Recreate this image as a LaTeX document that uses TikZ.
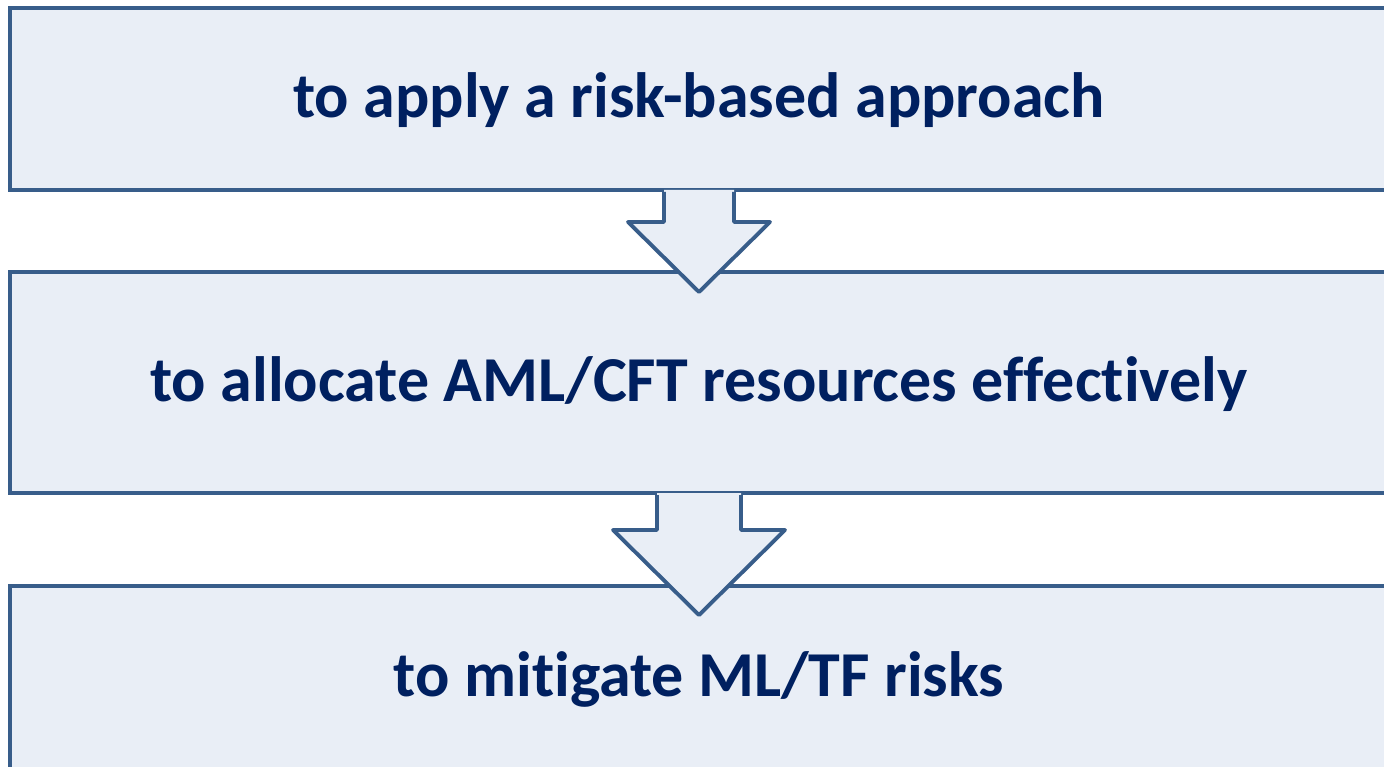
\documentclass[tikz,border=0pt]{standalone}
\usepackage{fontspec}
\setmainfont{Carlito}[Ligatures=NoCommon]
\usetikzlibrary{calc}

\definecolor{boxline}{HTML}{385D8A}
\definecolor{boxfill}{HTML}{E9EEF6}
\definecolor{boxtext}{HTML}{002060}

\begin{document}
\begin{tikzpicture}[x=0.01cm,y=-0.01cm,
    stepbox/.style={draw=boxline,fill=boxfill,line width=1.1pt,rectangle,
        minimum width=13.78cm,inner sep=0pt,text height=0.4cm,text depth=0.03cm,
        text=boxtext,font=\fontsize{18.2}{21}\selectfont\bfseries},
    downarrow/.style={draw=boxline,fill=boxfill,line width=1.1pt,line join=round}]
    \useasboundingbox (0,0) rectangle (1384,766);
    \node[stepbox,minimum height=1.82cm] (apply) at (699,99) {to apply a risk-based approach};
    \node[stepbox,minimum height=2.21cm] (allocate) at (699,382.5) {to allocate AML/CFT resources effectively};
    \node[stepbox,minimum height=1.84cm] (mitigate) at (699,678) {to mitigate ML/TF risks};
    % arrow 1
    \fill[boxfill] ($(apply.south)+(-35,-2)$) -- ($(apply.south)+(-35,30)$) -- ($(apply.south)+(-71,30)$)
        -- ($(apply.south)+(0,100)$) -- ($(apply.south)+(71,30)$) -- ($(apply.south)+(35,30)$)
        -- ($(apply.south)+(35,-2)$) -- cycle;
    \draw[downarrow,fill=none] ($(apply.south)+(-35,0)$) -- ($(apply.south)+(-35,30)$) -- ($(apply.south)+(-71,30)$)
        -- ($(apply.south)+(0,100)$) -- ($(apply.south)+(71,30)$) -- ($(apply.south)+(35,30)$)
        -- ($(apply.south)+(35,0)$);
    % arrow 2
    \fill[boxfill] ($(allocate.south)+(-42,-2)$) -- ($(allocate.south)+(-42,35)$) -- ($(allocate.south)+(-86,35)$)
        -- ($(allocate.south)+(0,120)$) -- ($(allocate.south)+(86,35)$) -- ($(allocate.south)+(42,35)$)
        -- ($(allocate.south)+(42,-2)$) -- cycle;
    \draw[downarrow,fill=none] ($(allocate.south)+(-42,0)$) -- ($(allocate.south)+(-42,35)$) -- ($(allocate.south)+(-86,35)$)
        -- ($(allocate.south)+(0,120)$) -- ($(allocate.south)+(86,35)$) -- ($(allocate.south)+(42,35)$)
        -- ($(allocate.south)+(42,0)$);
\end{tikzpicture}
\end{document}
